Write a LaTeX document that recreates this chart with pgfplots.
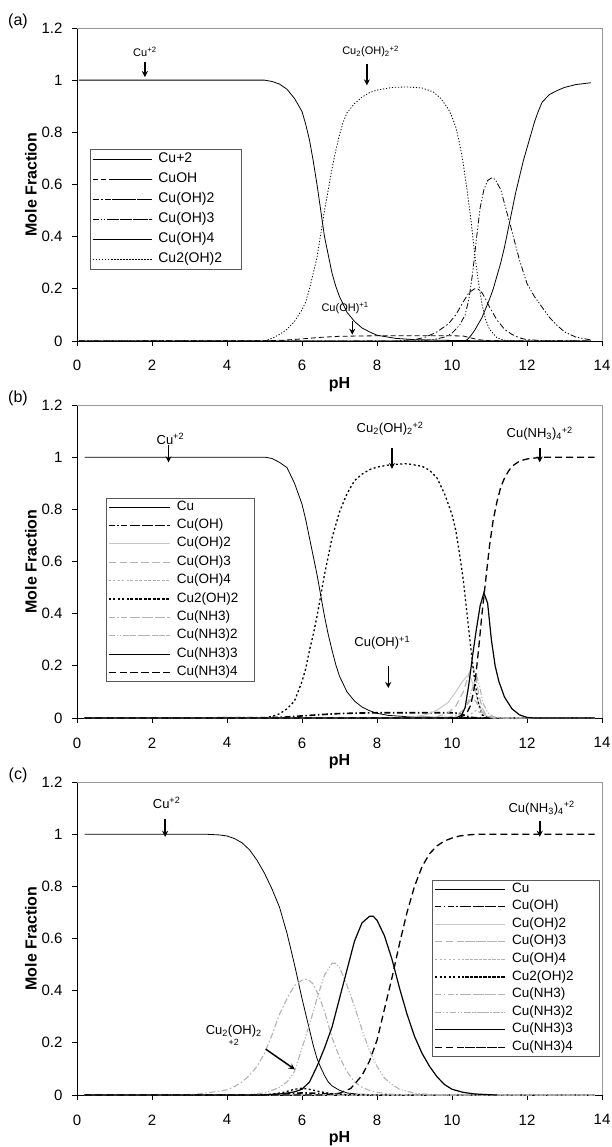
\documentclass[border=0pt]{standalone}
\usepackage{fontspec}
\setmainfont{Liberation Sans}
\usepackage{pgfplots}
\pgfplotsset{compat=1.18}
\usetikzlibrary{arrows.meta}

\definecolor{lg}{gray}{0.70}
\definecolor{lgs}{gray}{0.78}
\definecolor{bord}{gray}{0.35}
\definecolor{frame}{gray}{0.6}

\tikzset{
  dsh/.style={dash pattern=on 5pt off 3pt},
  dshd/.style={dash pattern=on 6pt off 2.5pt on 1.5pt off 2.5pt},
  dshdd/.style={dash pattern=on 6pt off 2pt on 1.2pt off 2pt on 1.2pt off 2pt},
  dts/.style={dash pattern=on 1.2pt off 1.8pt},
  bdsh/.style={dash pattern=on 7pt off 4pt},
  bdts/.style={dash pattern=on 2pt off 2.5pt},
  arr/.style={-{Stealth[length=6pt,width=6pt]}, line width=1.5pt, black},
}

\pgfplotsset{
  panel/.style={
    scale only axis, width=525pt, height=313pt,
    xmin=0, xmax=14, ymin=0, ymax=1.2,
    xtick={0,2,4,6,8,10,12,14},
    ytick={0,0.2,0.4,0.6,0.8,1,1.2},
    axis lines=left, axis line style={-, black, line width=0.8pt},
    tick align=outside, major tick length=5pt,
    every tick/.style={black, line width=0.7pt},
    tick label style={font=\fontsize{15}{17}\selectfont},
    /pgf/number format/assume math mode=true,
    xticklabel style={yshift=-11pt},
    yticklabel style={xshift=-6pt},
    xlabel={pH}, ylabel={Mole Fraction},
    label style={font=\fontsize{16}{18}\selectfont\bfseries},
    xlabel style={at={(axis description cs:0.5,-0.14)}, anchor=center},
    ylabel style={at={(axis description cs:-0.088,0.5)}, anchor=center},
    clip=false,
    legend cell align=left,
  },
}

\begin{document}
\begin{tikzpicture}
\useasboundingbox (0,0) rectangle (611pt,1147pt);

\node[font=\fontsize{16}{18}\selectfont] at (18pt,1126pt) {(a)};
\node[font=\fontsize{16}{18}\selectfont] at (18pt,749pt) {(b)};
\node[font=\fontsize{16}{18}\selectfont] at (18pt,372pt) {(c)};

% ---------------- (a) ----------------
\begin{axis}[panel, at={(77pt,806pt)}, anchor=south west,
  legend style={at={(axis description cs:0.0243,0.614)}, anchor=north west,
    draw=bord, line width=0.8pt, inner xsep=2pt, inner ysep=3pt,
    font=\fontsize{14}{16}\selectfont, row sep=6pt,
    nodes={inner xsep=6pt, inner ysep=0pt, text height=10.5pt, text depth=3.5pt, text width=75pt}},
  legend image code/.code={\path (0pt,0pt) -- (59.4pt,0pt); \draw[#1] (19.4pt,0pt) -- (59.4pt,0pt);},
]
\addplot[black, line width=0.8pt] coordinates {(0.05,1) (5.0,1) (5.2,0.995) (5.4,0.985) (5.6,0.965) (5.8,0.93) (6.0,0.88) (6.1,0.83) (6.2,0.77) (6.3,0.69) (6.4,0.6) (6.5,0.5) (6.6,0.4) (6.7,0.33) (6.8,0.26) (6.9,0.21) (7.0,0.17) (7.2,0.11) (7.4,0.075) (7.6,0.05) (7.8,0.035) (8.0,0.022) (8.5,0.01) (9.0,0.005) (10,0.002) (11,0.0005) (13.7,0)};
\addlegendentry{Cu+2}
\addplot[black, line width=0.8pt, dsh] coordinates {(0.05,0) (5.0,0.001) (5.5,0.003) (6.0,0.008) (6.5,0.014) (7.0,0.018) (8.0,0.02) (9.0,0.02) (10.0,0.02) (10.3,0.019) (10.5,0.012) (10.7,0.005) (11.0,0.001) (11.5,0) (13.7,0)};
\addlegendentry{CuOH}
\addplot[black, line width=0.8pt, dshd] coordinates {(0.05,0) (8.5,0) (9.0,0.005) (9.3,0.015) (9.6,0.035) (9.9,0.065) (10.1,0.1) (10.3,0.15) (10.45,0.185) (10.6,0.2) (10.7,0.198) (10.8,0.185) (10.9,0.16) (11.0,0.13) (11.2,0.08) (11.4,0.045) (11.6,0.025) (11.8,0.012) (12.0,0.005) (12.5,0.001) (13.7,0)};
\addlegendentry{Cu(OH)2}
\addplot[black, line width=0.8pt, dshdd] coordinates {(0.05,0) (9.0,0) (9.5,0.005) (9.8,0.015) (10.0,0.03) (10.2,0.06) (10.35,0.1) (10.45,0.16) (10.55,0.26) (10.65,0.39) (10.75,0.51) (10.85,0.58) (10.95,0.615) (11.05,0.625) (11.15,0.62) (11.3,0.58) (11.45,0.5) (11.6,0.42) (11.8,0.31) (12.0,0.22) (12.2,0.17) (12.4,0.13) (12.6,0.09) (12.8,0.06) (13.0,0.035) (13.3,0.015) (13.7,0.004)};
\addlegendentry{Cu(OH)3}
\addplot[black, line width=0.8pt] coordinates {(0.05,0) (10.3,0) (10.4,0.004) (10.5,0.02) (10.6,0.04) (10.7,0.065) (10.8,0.09) (10.9,0.125) (11.0,0.16) (11.1,0.2) (11.2,0.25) (11.3,0.3) (11.4,0.36) (11.5,0.43) (11.6,0.5) (11.7,0.57) (11.8,0.63) (11.9,0.69) (12.0,0.74) (12.1,0.79) (12.2,0.84) (12.3,0.88) (12.4,0.915) (12.6,0.945) (12.8,0.96) (13.0,0.972) (13.3,0.983) (13.7,0.99)};
\addlegendentry{Cu(OH)4}
\addplot[black, line width=0.8pt, dts] coordinates {(0.05,0) (5.0,0) (5.2,0.01) (5.4,0.025) (5.6,0.045) (5.8,0.075) (6.0,0.12) (6.1,0.15) (6.2,0.2) (6.3,0.26) (6.4,0.32) (6.5,0.41) (6.6,0.5) (6.7,0.58) (6.8,0.66) (6.9,0.73) (7.0,0.79) (7.1,0.84) (7.2,0.875) (7.4,0.91) (7.6,0.935) (7.8,0.952) (8.0,0.962) (8.4,0.972) (8.8,0.974) (9.2,0.97) (9.5,0.955) (9.7,0.93) (9.9,0.89) (10.0,0.86) (10.1,0.82) (10.2,0.76) (10.3,0.68) (10.4,0.58) (10.5,0.47) (10.6,0.34) (10.7,0.23) (10.8,0.14) (10.9,0.08) (11.0,0.045) (11.2,0.012) (11.4,0.003) (11.6,0) (13.7,0)};
\addlegendentry{Cu2(OH)2}
\draw[frame, line width=0.8pt] (rel axis cs:0,1) -- (rel axis cs:1,1) -- (rel axis cs:1,0);
\node[font=\fontsize{11}{13}\selectfont] at (axis cs:1.81,1.11) {Cu\textsuperscript{+2}};
\draw[arr] (axis cs:1.81,1.07) -- (axis cs:1.81,1.012);
\node[font=\fontsize{11}{13}\selectfont] at (axis cs:7.83,1.11) {Cu\textsubscript{2}(OH)\textsubscript{2}\textsuperscript{+2}};
\draw[arr] (axis cs:7.73,1.06) -- (axis cs:7.73,0.98);
\node[font=\fontsize{11}{13}\selectfont] at (axis cs:7.15,0.128) {Cu(OH)\textsuperscript{+1}};
\draw[arr] (axis cs:7.34,0.077) -- (axis cs:7.34,0.024);
\end{axis}

% ---------------- (b) ----------------
\begin{axis}[panel, at={(77pt,429pt)}, anchor=south west,
  legend style={at={(axis description cs:0.0543,0.704)}, anchor=north west,
    draw=bord, line width=0.8pt, inner xsep=2pt, inner ysep=2pt,
    font=\fontsize{13.5}{15}\selectfont, row sep=4.4pt,
    nodes={inner xsep=6pt, inner ysep=0pt, text height=10pt, text depth=4pt, text width=70pt}},
  legend image code/.code={\path (0pt,0pt) -- (61.3pt,0pt); \draw[#1] (21.3pt,0pt) -- (61.3pt,0pt);},
]
\addplot[black, line width=0.8pt] coordinates {(0.2,1) (5.0,1) (5.2,0.995) (5.4,0.98) (5.6,0.96) (5.8,0.9) (6.0,0.82) (6.1,0.76) (6.2,0.69) (6.3,0.62) (6.4,0.55) (6.5,0.47) (6.6,0.39) (6.7,0.32) (6.8,0.26) (6.9,0.205) (7.0,0.16) (7.2,0.1) (7.4,0.065) (7.6,0.042) (7.8,0.028) (8.0,0.018) (8.3,0.01) (8.8,0.005) (9.5,0.003) (10.0,0.002) (11,0.0005) (13.8,0)};
\addlegendentry{Cu}
\addplot[black, line width=1.6pt, dshd] coordinates {(0.2,0) (5.0,0.001) (5.5,0.003) (6.0,0.008) (6.5,0.013) (7.0,0.017) (7.5,0.019) (8.0,0.02) (9.0,0.02) (10.0,0.02) (10.2,0.018) (10.3,0.012) (10.4,0.005) (10.6,0.001) (11,0) (13.8,0)};
\addlegendentry{Cu(OH)}
\addplot[lgs, line width=1pt] coordinates {(0.2,0) (8.5,0) (9.0,0.005) (9.3,0.012) (9.6,0.03) (9.9,0.06) (10.1,0.1) (10.25,0.135) (10.4,0.16) (10.5,0.155) (10.6,0.11) (10.7,0.06) (10.8,0.025) (10.9,0.008) (11.1,0.001) (13.8,0)};
\addlegendentry{Cu(OH)2}
\addplot[lg, line width=1.1pt, bdsh] coordinates {(0.2,0) (9.3,0) (9.6,0.005) (9.9,0.02) (10.1,0.045) (10.3,0.1) (10.45,0.17) (10.55,0.2) (10.62,0.17) (10.7,0.1) (10.8,0.04) (10.9,0.012) (11.1,0.001) (13.8,0)};
\addlegendentry{Cu(OH)3}
\addplot[lg, line width=1.1pt, bdts] coordinates {(0.2,0) (10.0,0) (10.3,0.005) (10.5,0.015) (10.65,0.03) (10.75,0.02) (10.85,0.008) (11.0,0.001) (13.8,0)};
\addlegendentry{Cu(OH)4}
\addplot[black, line width=1.3pt, bdts] coordinates {(0.2,0) (5.0,0) (5.2,0.006) (5.4,0.016) (5.6,0.035) (5.8,0.065) (6.0,0.14) (6.1,0.19) (6.2,0.26) (6.3,0.32) (6.4,0.39) (6.5,0.47) (6.6,0.55) (6.7,0.62) (6.8,0.69) (6.9,0.74) (7.0,0.79) (7.2,0.86) (7.4,0.91) (7.6,0.935) (7.8,0.952) (8.0,0.962) (8.4,0.972) (8.8,0.975) (9.2,0.965) (9.4,0.95) (9.6,0.92) (9.8,0.86) (10.0,0.78) (10.1,0.72) (10.2,0.63) (10.3,0.53) (10.4,0.40) (10.5,0.27) (10.6,0.15) (10.7,0.06) (10.8,0.012) (11.0,0) (13.8,0)};
\addlegendentry{Cu2(OH)2}
\addplot[lg, line width=1.1pt, dshd] coordinates {(0.2,0) (9.8,0) (10.1,0.01) (10.3,0.03) (10.45,0.06) (10.55,0.08) (10.65,0.06) (10.75,0.03) (10.9,0.008) (11.1,0) (13.8,0)};
\addlegendentry{Cu(NH3)}
\addplot[lg, line width=1.1pt, dshdd] coordinates {(0.2,0) (10.0,0) (10.3,0.02) (10.45,0.07) (10.58,0.13) (10.66,0.16) (10.74,0.12) (10.82,0.06) (10.95,0.02) (11.1,0.005) (11.4,0) (13.8,0)};
\addlegendentry{Cu(NH3)2}
\addplot[black, line width=1.2pt] coordinates {(0.2,0) (10.1,0) (10.25,0.01) (10.35,0.04) (10.45,0.13) (10.55,0.24) (10.65,0.34) (10.75,0.43) (10.85,0.48) (10.95,0.44) (11.05,0.3) (11.15,0.2) (11.25,0.14) (11.4,0.08) (11.6,0.035) (11.8,0.012) (12.0,0.002) (12.2,0) (13.8,0)};
\addlegendentry{Cu(NH3)3}
\addplot[black, line width=1.3pt, bdsh] coordinates {(0.2,0) (10.2,0) (10.4,0.02) (10.5,0.05) (10.6,0.12) (10.7,0.25) (10.8,0.4) (10.9,0.53) (11.0,0.66) (11.1,0.76) (11.2,0.83) (11.3,0.885) (11.4,0.92) (11.5,0.945) (11.6,0.965) (11.8,0.985) (12.0,0.993) (12.4,1.0) (13.8,1.0)};
\addlegendentry{Cu(NH3)4}
\draw[frame, line width=0.8pt] (rel axis cs:0,1) -- (rel axis cs:1,1) -- (rel axis cs:1,0);
\node[font=\fontsize{13}{15}\selectfont] at (axis cs:2.49,1.07) {Cu\textsuperscript{+2}};
\draw[arr] (axis cs:2.44,1.045) -- (axis cs:2.44,0.98);
\node[font=\fontsize{13}{15}\selectfont] at (axis cs:8.35,1.11) {Cu\textsubscript{2}(OH)\textsubscript{2}\textsuperscript{+2}};
\draw[arr] (axis cs:8.4,1.035) -- (axis cs:8.4,0.955);
\node[font=\fontsize{13}{15}\selectfont] at (axis cs:12.34,1.09) {Cu(NH\textsubscript{3})\textsubscript{4}\textsuperscript{+2}};
\draw[arr] (axis cs:12.34,1.035) -- (axis cs:12.34,0.98);
\node[font=\fontsize{13}{15}\selectfont] at (axis cs:8.14,0.288) {Cu(OH)\textsuperscript{+1}};
\draw[arr] (axis cs:8.3,0.2) -- (axis cs:8.3,0.115);
\end{axis}

% ---------------- (c) ----------------
\begin{axis}[panel, at={(77pt,52pt)}, anchor=south west,
  legend style={at={(axis description cs:0.676,0.688)}, anchor=north west,
    draw=bord, line width=0.8pt, inner xsep=2pt, inner ysep=2pt,
    font=\fontsize{13.5}{15}\selectfont, row sep=3.6pt,
    nodes={inner xsep=6pt, inner ysep=0pt, text height=10pt, text depth=4pt, text width=78.7pt}},
  legend image code/.code={\path (0pt,0pt) -- (70.3pt,0pt); \draw[#1] (30.3pt,0pt) -- (70.3pt,0pt);},
]
\addplot[black, line width=0.8pt] coordinates {(0.2,1) (3.4,1) (3.8,0.997) (4.0,0.993) (4.2,0.983) (4.4,0.967) (4.6,0.94) (4.8,0.9) (5.0,0.85) (5.2,0.79) (5.4,0.72) (5.6,0.62) (5.8,0.5) (6.0,0.37) (6.1,0.31) (6.2,0.25) (6.3,0.19) (6.4,0.14) (6.5,0.105) (6.6,0.075) (6.7,0.05) (6.8,0.035) (7.0,0.018) (7.2,0.008) (7.5,0.003) (8,0.001) (13.8,0)};
\addlegendentry{Cu}
\addplot[black, line width=1.6pt, dshd] coordinates {(0.2,0) (5,0) (5.5,0.004) (6.0,0.008) (6.5,0.006) (7.0,0.002) (7.5,0) (13.8,0)};
\addlegendentry{Cu(OH)}
\addplot[lgs, line width=1pt] coordinates {(0.2,0) (13.8,0)};
\addlegendentry{Cu(OH)2}
\addplot[lg, line width=1.1pt, bdsh] coordinates {(0.2,0) (13.8,0)};
\addlegendentry{Cu(OH)3}
\addplot[lg, line width=1.1pt, bdts] coordinates {(0.2,0) (13.8,0)};
\addlegendentry{Cu(OH)4}
\addplot[black, line width=1.3pt, bdts] coordinates {(0.2,0) (4.8,0) (5.2,0.003) (5.5,0.01) (5.8,0.022) (6.0,0.026) (6.2,0.022) (6.5,0.012) (6.8,0.005) (7.2,0.001) (8,0) (13.8,0)};
\addlegendentry{Cu2(OH)2}
\addplot[lg, line width=1.1pt, dshd] coordinates {(0.2,0) (3.0,0) (3.4,0.007) (3.8,0.015) (4.0,0.02) (4.2,0.032) (4.4,0.05) (4.6,0.075) (4.8,0.11) (5.0,0.16) (5.2,0.23) (5.4,0.31) (5.6,0.37) (5.8,0.42) (6.0,0.44) (6.15,0.445) (6.3,0.425) (6.45,0.38) (6.6,0.32) (6.8,0.22) (7.0,0.145) (7.2,0.09) (7.4,0.05) (7.6,0.03) (7.8,0.017) (8.0,0.01) (8.4,0.003) (9,0) (13.8,0)};
\addlegendentry{Cu(NH3)}
\addplot[lg, line width=1.1pt, dshdd] coordinates {(0.2,0) (4.5,0) (5.0,0.008) (5.2,0.018) (5.4,0.03) (5.6,0.05) (5.8,0.09) (6.0,0.18) (6.2,0.27) (6.4,0.37) (6.6,0.46) (6.8,0.505) (6.9,0.505) (7.0,0.49) (7.2,0.42) (7.4,0.34) (7.6,0.25) (7.8,0.17) (8.0,0.11) (8.2,0.065) (8.4,0.04) (8.6,0.022) (9.0,0.007) (9.5,0.001) (13.8,0)};
\addlegendentry{Cu(NH3)2}
\addplot[black, line width=1.2pt] coordinates {(0.2,0) (5.0,0) (5.5,0.005) (5.8,0.012) (6.0,0.022) (6.2,0.05) (6.4,0.11) (6.6,0.18) (6.8,0.26) (7.0,0.37) (7.2,0.48) (7.4,0.59) (7.6,0.66) (7.8,0.685) (7.9,0.685) (8.0,0.67) (8.2,0.61) (8.4,0.52) (8.6,0.41) (8.8,0.31) (9.0,0.225) (9.2,0.16) (9.4,0.11) (9.6,0.07) (9.8,0.04) (10.0,0.022) (10.3,0.01) (10.6,0.004) (11,0.001) (11.2,0)};
\addlegendentry{Cu(NH3)3}
\addplot[black, line width=1.3pt, bdsh] coordinates {(0.2,0) (6.5,0) (7.0,0.007) (7.3,0.025) (7.6,0.075) (7.8,0.13) (8.0,0.21) (8.2,0.33) (8.4,0.45) (8.6,0.58) (8.8,0.7) (9.0,0.8) (9.2,0.875) (9.4,0.925) (9.6,0.955) (9.8,0.974) (10.0,0.985) (10.2,0.993) (10.5,0.998) (10.8,1.0) (13.8,1.0)};
\addlegendentry{Cu(NH3)4}
\draw[frame, line width=0.8pt] (rel axis cs:0,1) -- (rel axis cs:1,1) -- (rel axis cs:1,0);
\node[font=\fontsize{13}{15}\selectfont] at (axis cs:2.39,1.12) {Cu\textsuperscript{+2}};
\draw[arr] (axis cs:2.35,1.06) -- (axis cs:2.35,0.99);
\node[font=\fontsize{13}{15}\selectfont] at (axis cs:12.39,1.10) {Cu(NH\textsubscript{3})\textsubscript{4}\textsuperscript{+2}};
\draw[arr] (axis cs:12.34,1.05) -- (axis cs:12.34,0.99);
\node[font=\fontsize{13}{15}\selectfont] at (axis cs:4.18,0.245) {Cu\textsubscript{2}(OH)\textsubscript{2}};
\node[font=\fontsize{9}{11}\selectfont] at (axis cs:4.18,0.200) {+2};
\draw[arr] (axis cs:5.03,0.176) -- (axis cs:5.81,0.098);
\end{axis}
\end{tikzpicture}
\end{document}
